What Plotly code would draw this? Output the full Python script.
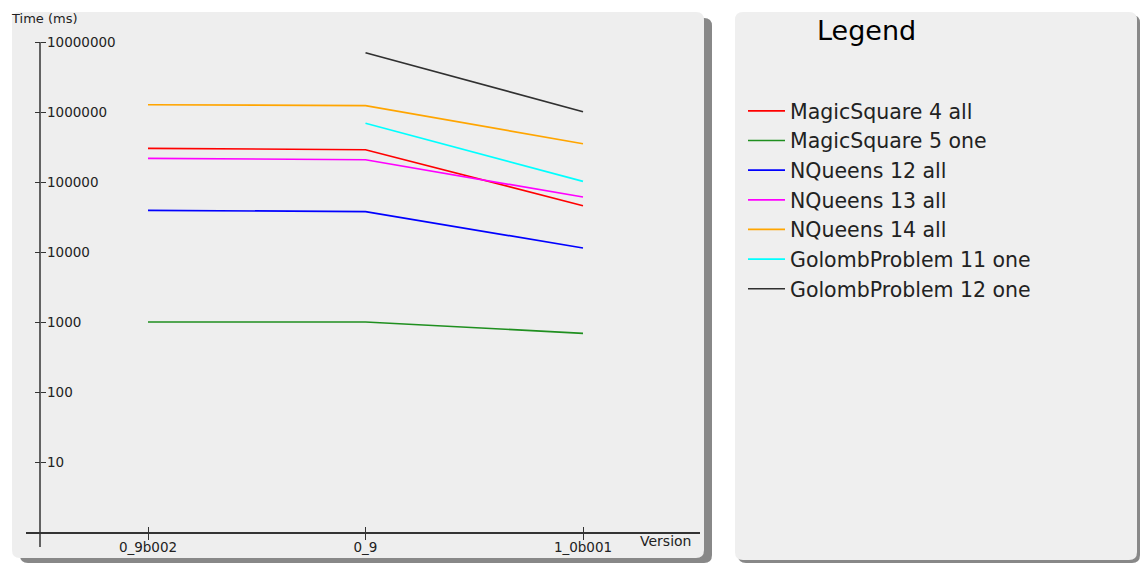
import plotly.graph_objects as go

W, H = 1140, 563

versions = ["0_9b002", "0_9", "1_0b001"]
series_names = ["MagicSquare 4 all", "MagicSquare 5 one", "NQueens 12 all", "NQueens 13 all",
                "NQueens 14 all", "GolombProblem 11 one", "GolombProblem 12 one"]
magic4 = [303000, 289000, 45800]
magic5 = [1000, 1000, 690]
nq12 = [39400, 37700, 11400]
nq13 = [218000, 208000, 61000]
nq14 = [1270000, 1230000, 352000]
golomb11 = [None, 690000, 102000]
golomb12 = [None, 7030000, 1010000]
series_values = [magic4, magic5, nq12, nq13, nq14, golomb11, golomb12]
colors = ["#ff0000", "#1f8f1f", "#0000ff", "#ff00ff", "#ffa500", "#00ffff", "#303030"]
y_tickvals = [10, 100, 1000, 10000, 100000, 1000000, 10000000]
y_ticktext = ["10", "100", "1000", "10000", "100000", "1000000", "10000000"]

def fx(px):
    return px / W

def fy(py):
    return 1 - py / H

# pixel geometry
cat_x0, cat_dx = 148, 217.5
x_left, x_right = 26, 700
y_top, y_bot = 28, 547
y_line_top = 42
y_axis_px = 40
x_axis_py = 533
dec = 70.0
y_zero_py = 532  # pixel of value 1

xr = [(x_left - cat_x0) / cat_dx, (x_right - cat_x0) / cat_dx]
yr = [(y_zero_py - y_bot) / dec, (y_zero_py - y_top) / dec]

fig = go.Figure()
xi = list(range(len(versions)))
for name, vals, col in zip(series_names, series_values, colors):
    fig.add_trace(go.Scatter(x=xi, y=vals, mode="lines", name=name, legendgroup=name,
                             line=dict(color=col, width=1.7), connectgaps=False))
fig.add_trace(go.Scatter(x=[None], y=[None], xaxis="x2", yaxis="y2", showlegend=False,
                         hoverinfo="skip"))

def rrect(x0, y0, x1, y1, r):
    X0, X1 = fx(x0), fx(x1)
    Y0, Y1 = fy(y0), fy(y1)
    rx, ry = r / W, r / H
    return (f"M{X0+rx},{Y0} L{X1-rx},{Y0} Q{X1},{Y0} {X1},{Y0-ry} "
            f"L{X1},{Y1+ry} Q{X1},{Y1} {X1-rx},{Y1} L{X0+rx},{Y1} Q{X0},{Y1} {X0},{Y1+ry} "
            f"L{X0},{Y0-ry} Q{X0},{Y0} {X0+rx},{Y0} Z")

axis_col = "#333333"
shapes = [
    dict(type="path", xref="paper", yref="paper", path=rrect(20, 18, 712, 563, 8),
         fillcolor="#888888", line=dict(width=0), layer="below"),
    dict(type="path", xref="paper", yref="paper", path=rrect(12, 12, 704, 558, 8),
         fillcolor="#eeeeee", line=dict(width=0), layer="below"),
    dict(type="path", xref="paper", yref="paper", path=rrect(738, 15, 1140, 563, 8),
         fillcolor="#888888", line=dict(width=0), layer="below"),
    dict(type="path", xref="paper", yref="paper", path=rrect(735, 12, 1137, 560, 8),
         fillcolor="#efefef", line=dict(width=0), layer="below"),
    # y axis line
    dict(type="line", xref="paper", yref="paper", x0=fx(y_axis_px), x1=fx(y_axis_px),
         y0=fy(y_line_top), y1=fy(y_bot), line=dict(color=axis_col, width=1.5), layer="above"),
]

font_fam = "DejaVu Sans, Verdana, sans-serif"

fig.update_layout(
    width=W, height=H,
    margin=dict(l=0, r=0, t=0, b=0),
    paper_bgcolor="white", plot_bgcolor="rgba(0,0,0,0)",
    shapes=shapes,
    showlegend=True,
    legend=dict(x=fx(743), y=fy(91), xanchor="left", yanchor="top",
                bgcolor="rgba(0,0,0,0)", font=dict(family=font_fam, size=20.5, color="#222222"),
                traceorder="grouped", tracegroupgap=0, itemwidth=37),
    xaxis=dict(domain=[fx(x_left), fx(x_right)], range=xr, anchor="free", position=fy(x_axis_py),
               showline=True, linecolor=axis_col, linewidth=1.5, showgrid=False, zeroline=False,
               tickmode="array", tickvals=xi, ticktext=versions, ticks="outside", ticklen=6,
               tickcolor=axis_col, tickwidth=1.2, ticklabelstandoff=-4,
               tickfont=dict(family=font_fam, size=13.5, color="#222222")),
    xaxis2=dict(domain=[fx(x_left), fx(x_right)], range=xr, anchor="free", position=fy(x_axis_py),
                overlaying="x", showline=False, showgrid=False, zeroline=False,
                tickmode="array", tickvals=xi, ticks="inside", ticklen=6,
                tickcolor=axis_col, tickwidth=1.2, showticklabels=False),
    yaxis=dict(type="log", domain=[fy(y_bot), fy(y_top)], range=yr, anchor="free",
               position=fx(y_axis_px), showline=False,
               showgrid=False, zeroline=False, tickmode="array", tickvals=y_tickvals,
               ticktext=y_ticktext, ticks="outside", ticklen=5, tickcolor=axis_col, tickwidth=1.2,
               ticklabelposition="inside", ticklabelstandoff=3,
               tickfont=dict(family=font_fam, size=13.5, color="#222222")),
    yaxis2=dict(type="log", domain=[fy(y_bot), fy(y_top)], range=yr, anchor="free",
                position=fx(y_axis_px), overlaying="y", showline=False, showgrid=False,
                zeroline=False, tickmode="array", tickvals=y_tickvals, ticks="inside",
                ticklen=5, tickcolor=axis_col, tickwidth=1.2, showticklabels=False),
    annotations=[
        dict(text="Time (ms)", xref="paper", yref="paper", x=fx(9), y=fy(18), xanchor="left",
             yanchor="middle", showarrow=False, font=dict(family=font_fam, size=13, color="#222222")),
        dict(text="Version", xref="paper", yref="paper", x=fx(693), y=fy(541), xanchor="right",
             yanchor="middle", showarrow=False, font=dict(family=font_fam, size=14, color="#222222")),
        dict(text="Legend", xref="paper", yref="paper", x=fx(866), y=fy(30), xanchor="center",
             yanchor="middle", showarrow=False, font=dict(family=font_fam, size=27, color="#000000")),
    ],
)

fig.write_html("out.html", config={"displayModeBar": False},
               post_script="document.body.style.margin='0';document.body.style.overflow='hidden';")
